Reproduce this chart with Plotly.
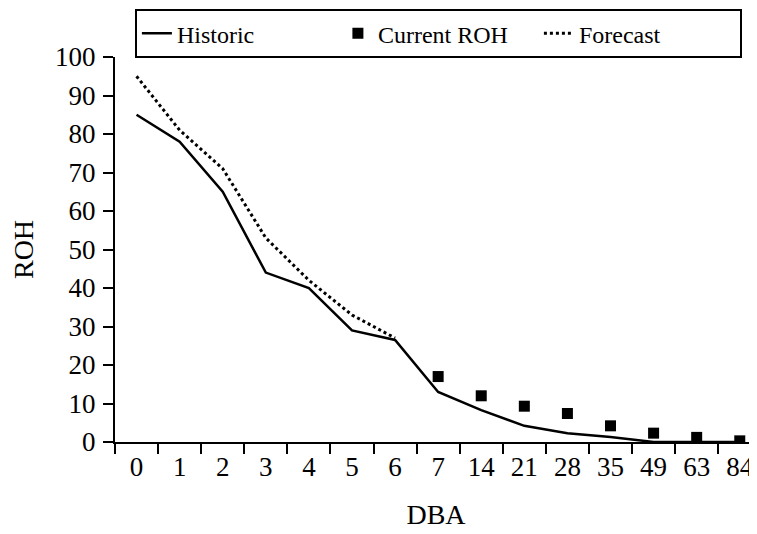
import plotly.graph_objects as go

dba = ["0", "1", "2", "3", "4", "5", "6", "7", "14", "21", "28", "35", "49", "63", "84"]
historic = [85, 78, 65, 44, 40, 29, 26.5, 13, 8.3, 4.2, 2.3, 1.3, 0, 0, 0]
current_dba = ["7", "14", "21", "28", "35", "49", "63", "84"]
current_roh = [17, 12, 9.3, 7.4, 4.2, 2.3, 1.2, 0.3]
forecast_dba = ["0", "1", "2", "3", "4", "5", "6"]
forecast = [95, 81, 71, 53, 42, 33, 27]
y_ticks = list(range(0, 101, 10))

FONT = "Liberation Serif"
FS = 27

fig = go.Figure()
fig.add_trace(go.Scatter(x=dba, y=historic, mode="lines", name="Historic",
                         line=dict(color="black", width=2.5)))
fig.add_trace(go.Scatter(x=current_dba, y=current_roh, mode="markers", name="Current ROH",
                         marker=dict(symbol="square", color="black", size=11)))
fig.add_trace(go.Scatter(x=forecast_dba, y=forecast, mode="lines", name="Forecast",
                         line=dict(color="black", width=3, dash="dot")))

fig.update_layout(
    width=749, height=526,
    margin=dict(l=107, r=0, t=49, b=92),
    paper_bgcolor="white", plot_bgcolor="white",
    font=dict(family=FONT, size=FS, color="black"),
    showlegend=True,
    legend=dict(orientation="h", x=0.031, y=0.997, xanchor="left", yanchor="bottom",
                bordercolor="black", borderwidth=2, bgcolor="white",
                font=dict(family=FONT, size=24), itemwidth=30,
                entrywidth=156, tracegroupgap=0),
    xaxis=dict(type="category", categoryorder="array", categoryarray=dba,
               range=[-0.5, 14.4], showline=True, linecolor="black", linewidth=2,
               ticks="outside", tickson="boundaries", ticklen=10, tickwidth=2,
               tickcolor="black", showgrid=False, zeroline=False,
               tickfont=dict(family=FONT, size=FS),
               title=dict(text="DBA", font=dict(family=FONT, size=28), standoff=23)),
    yaxis=dict(range=[0, 100], tickvals=y_ticks, showline=True, linecolor="black",
               linewidth=2, ticks="outside", ticklen=10, tickwidth=2, tickcolor="black",
               showgrid=False, zeroline=False, ticklabelstandoff=2,
               tickfont=dict(family=FONT, size=FS),
               title=dict(text="ROH", font=dict(family=FONT, size=28), standoff=22)),
)

fig.write_html("out.html")
